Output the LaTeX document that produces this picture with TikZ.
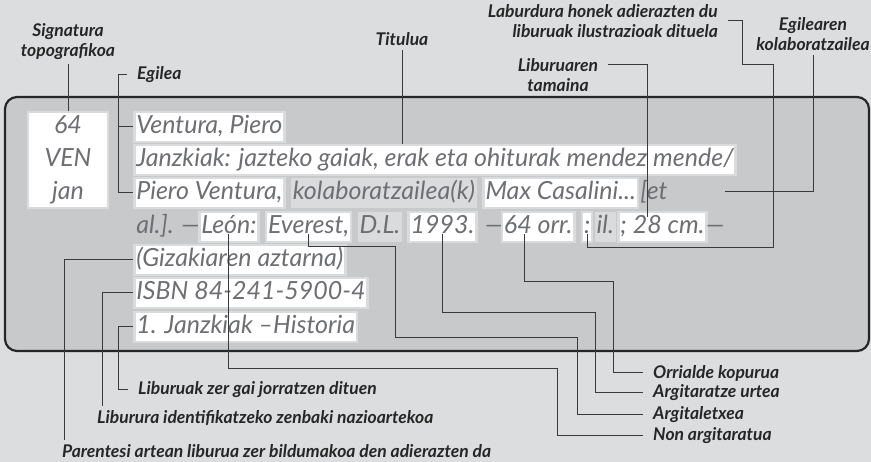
\documentclass[tikz,border=0pt]{standalone}
\usepackage{fontspec}
\setmainfont{Lato}
\usepackage{tikz}
\usetikzlibrary{positioning}
\usetikzlibrary{calc}
\definecolor{PageGrey}{HTML}{DCDDDF}
\definecolor{CardGrey}{HTML}{C8C9CB}
\definecolor{HaloGrey}{HTML}{DADBDD}
\definecolor{CardInk}{HTML}{6E6F72}
\definecolor{LineInk}{HTML}{3A3A3A}
\definecolor{LabelInk}{HTML}{262626}
\newcommand{\cardfont}{\fontsize{25}{33.3}\selectfont\itshape}
\newcommand{\labelfont}{\fontsize{17.5}{20}\selectfont\bfseries\itshape}
\tikzset{
  word/.style={fill=white,draw=HaloGrey,line width=2.5pt,text=CardInk,font=\cardfont,
    inner xsep=2pt,inner ysep=3pt,text height=19pt,text depth=5pt},
  dimword/.style={word,fill=HaloGrey,draw=none},
  bare/.style={word,fill=none,draw=none},
  sigbox/.style={fill=white,draw=HaloGrey,line width=2.5pt,text=CardInk,font=\cardfont,
    align=center,minimum width=80pt,minimum height=96pt},
  tag/.style={text=LabelInk,font=\labelfont,inner xsep=10pt,inner ysep=4pt},
  leader/.style={draw=LineInk,line width=1pt}
}

\begin{document}
\begin{tikzpicture}[x=1pt,y=-1pt]

    % Page and card
    \fill[PageGrey] (0,0) rectangle (871,462);
    \useasboundingbox (0,0) rectangle (871,462);
    \draw[fill=CardGrey,draw=black!85,line width=2.2pt,rounded corners=12pt]
      (5,97) rectangle (869,351);

    % Coordinates
    \path (118,0) coordinate (EgTrunk)
      (742,65) coordinate (LabBend1)
      (773,248) coordinate (LabBend2)
      (725,192) coordinate (KolEnd)
      (613,282) coordinate (OrrBend)
      (595,313) coordinate (UrtBend)
      (577,338) coordinate (ArgBend1)
      (395,247) coordinate (ArgBend2)
      (557,369) coordinate (NonBend)
      ;

    % Card entry
    \node[sigbox] (sig) at (68,160) {64\\VEN\\jan};
    \node[word,anchor=base west] (r1) at (133,134) {Ventura, Piero};
    \node[word,anchor=base west] (r2) at (133,167) {Janzkiak: jazteko gaiak, erak eta ohiturak mendez mende/};
    \node[word,anchor=base west] (r3a) at (133,200) {Piero Ventura,};
    \node[dimword,base right=4pt of r3a] (r3b) {kolaboratzailea(k)};
    \node[word,base right=4pt of r3b] (r3c) {Max Casalini...};
    \node[bare,base right=-2pt of r3c] (r3d) {[et};
    \node[bare,anchor=base west] (al) at (133,234) {al.]. —};
    \node[word,base right=-5pt of al] (leon) {León:};
    \node[word,base right=5pt of leon] (everest) {Everest,};
    \node[dimword,base right=4pt of everest] (dl) {D.L.};
    \node[word,base right=4pt of dl] (year) {1993.};
    \node[bare,base right=4pt of year] (dash) {—};
    \node[word,base right=-6pt of dash] (pages) {64 orr.};
    \node[word,base right=5pt of pages] (colon) {:};
    \node[dimword,base right=0pt of colon] (il) {il.};
    \node[word,base right=0pt of il] (size) {; 28 cm.};
    \node[bare,base right=-5pt of size] (enddash) {—};
    \node[word,anchor=base west] (r5) at (133,267) {(Gizakiaren aztarna)};
    \node[word,anchor=base west] (r6) at (133,300) {ISBN 84-241-5900-4};
    \node[word,anchor=base west] (r7) at (133,334) {1. Janzkiak –Historia};

    % Marks inside words
    \path (pages.base west) ++(24,0) coordinate (PageMark);
    \path (size.west) ++(30,-10) coordinate (SizeMark);

    % Labels
    \node[tag,align=center] (signatura) at (68,42) {Signatura\\topografikoa};
    \node[tag,anchor=west] (egilea) at (127,75) {Egilea};
    \node[tag] (titulua) at (402,39) {Titulua};
    \node[tag,align=right,anchor=east] (laburdura) at (728,21) {Laburdura honek adierazten du\\liburuak ilustrazioak dituela};
    \node[tag,align=center] (egilekol) at (813,34) {Egilearen\\kolaboratzailea};
    \node[tag,align=center] (tamaina) at (558,75) {Liburuaren\\tamaina};
    \node[tag,anchor=west] (orrialde) at (643,373) {Orrialde kopurua};
    \node[tag,anchor=west] (urtea) at (643,393) {Argitaratze urtea};
    \node[tag,anchor=west] (argitaletxe) at (643,415) {Argitaletxea};
    \node[tag,anchor=west] (non) at (643,436) {Non argitaratua};
    \node[tag,anchor=west] (gaia) at (128,390) {Liburuak zer gai jorratzen dituen};
    \node[tag,anchor=west] (isbn) at (87,418) {Liburura identifikatzeko zenbaki nazioartekoa};
    \node[tag,anchor=west] (bilduma) at (52,451) {Parentesi artean liburua zer bildumakoa den adierazten da};

    % Leaders
    \begin{scope}[leader]
      \draw (signatura.south) -- (signatura.south |- sig.north);
      \draw (egilea.west) -| (EgTrunk |- r3a.west) -- (r3a.west);
      \draw (EgTrunk |- r1.west) -- (r1.west);
      \draw (titulua.south) -- (titulua.south |- r2.north);
      \draw (laburdura.east) -| (LabBend1) -| (LabBend2) -| (colon.base);
      \draw (egilekol.south) |- (KolEnd);
      \draw ($(tamaina.east)+(0,-10)$) -| (SizeMark);
      \draw (orrialde.west) -| (OrrBend) -| (PageMark);
      \draw (urtea.west) -| (UrtBend) -| (year.base);
      \draw (argitaletxe.west) -| (ArgBend1) -| (ArgBend2) -| (everest.base);
      \draw (non.west) -| (NonBend) -| (leon.base);
      \draw (gaia.west) -| ($(r7.west)+(-15,0)$) -- (r7.west);
      \draw (isbn.north west) ++(15,0) |- (r6.west);
      \draw (bilduma.north west) ++(12,0) |- (r5.west);
    \end{scope}

\end{tikzpicture}
\end{document}
